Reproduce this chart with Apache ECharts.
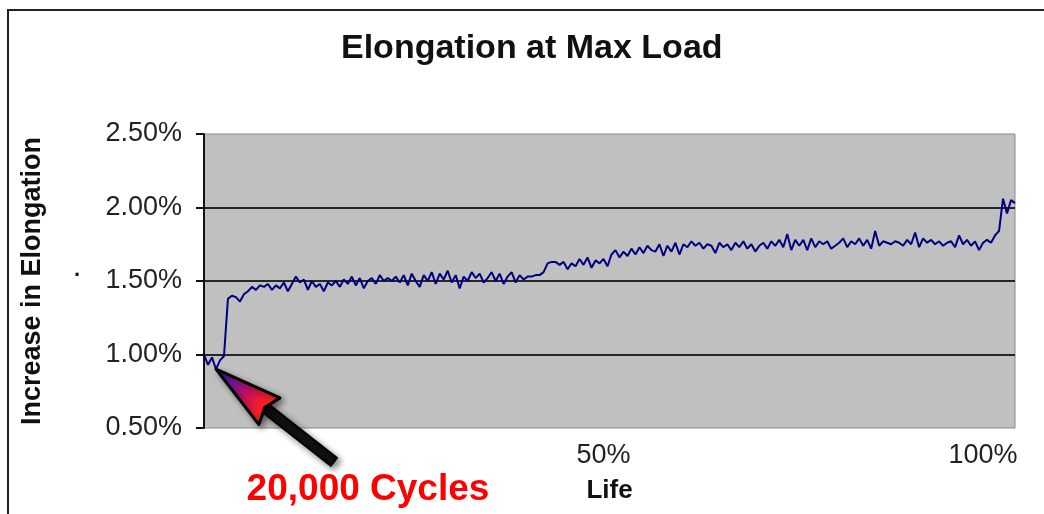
<!DOCTYPE html>
<html>
<head>
<meta charset="utf-8">
<title>Elongation at Max Load</title>
<script src="https://cdn.jsdelivr.net/npm/echarts@6/dist/echarts.min.js"></script>
<style>
  html, body { margin: 0; padding: 0; background: #fff; }
  #chart { width: 1044px; height: 514px; }
</style>
</head>
<body>
<div id="chart"></div>
<script>
// increase in elongation (%) sampled along the life of the part
const elongation = [
  1.00, 0.93, 0.98, 0.90, 0.96, 0.99, 1.38, 1.40, 1.39, 1.36,
  1.41, 1.43, 1.46, 1.44, 1.47, 1.46, 1.48, 1.44, 1.47, 1.45,
  1.49, 1.43, 1.48, 1.53, 1.49, 1.51, 1.44, 1.50, 1.46, 1.48,
  1.43, 1.49, 1.47, 1.50, 1.46, 1.51, 1.48, 1.53, 1.47, 1.52,
  1.45, 1.50, 1.52, 1.48, 1.54, 1.50, 1.52, 1.50, 1.53, 1.49,
  1.54, 1.47, 1.55, 1.50, 1.46, 1.54, 1.50, 1.56, 1.48, 1.55,
  1.51, 1.57, 1.49, 1.54, 1.45, 1.53, 1.50, 1.56, 1.52, 1.55,
  1.49, 1.52, 1.56, 1.50, 1.55, 1.48, 1.53, 1.56, 1.49, 1.54,
  1.51, 1.53, 1.53, 1.54, 1.54, 1.56, 1.62, 1.63, 1.63, 1.61,
  1.63, 1.58, 1.62, 1.60, 1.65, 1.61, 1.66, 1.59, 1.64, 1.62,
  1.65, 1.60, 1.68, 1.71, 1.66, 1.70, 1.67, 1.72, 1.68, 1.73,
  1.69, 1.74, 1.71, 1.70, 1.75, 1.67, 1.74, 1.70, 1.76, 1.68,
  1.75, 1.73, 1.77, 1.74, 1.76, 1.72, 1.75, 1.74, 1.69, 1.76,
  1.73, 1.75, 1.71, 1.76, 1.73, 1.77, 1.72, 1.75, 1.70, 1.74,
  1.76, 1.72, 1.77, 1.74, 1.78, 1.73, 1.82, 1.71, 1.78, 1.74,
  1.78, 1.71, 1.79, 1.73, 1.77, 1.75, 1.77, 1.72, 1.74, 1.76,
  1.79, 1.73, 1.77, 1.75, 1.79, 1.74, 1.78, 1.72, 1.84, 1.74,
  1.77, 1.76, 1.75, 1.77, 1.76, 1.74, 1.78, 1.75, 1.83, 1.73,
  1.79, 1.76, 1.78, 1.75, 1.77, 1.74, 1.76, 1.77, 1.73, 1.81,
  1.75, 1.78, 1.74, 1.77, 1.71, 1.76, 1.78, 1.76, 1.81, 1.84,
  2.06, 1.96, 2.05, 2.03
]
// where the two life labels sit along the samples
const lifeTickIndex = [100, 195]
const lifeTickLabels = ['50%', '100%']
// the 20,000 cycles sample the arrow points at
const cyclesIndex = 3
const cyclesValue = 0.90

const lifeCategories = elongation.map((v, i) => {
  const k = lifeTickIndex.indexOf(i)
  return k >= 0 ? lifeTickLabels[k] : ''
})

const font = 'Arial, "Liberation Sans", sans-serif'
const chart = echarts.init(document.getElementById('chart'))

chart.setOption({
  backgroundColor: '#fff',
  animation: false,
  title: {
    text: 'Elongation at Max Load',
    left: 341,
    top: 32,
    padding: 0,
    textStyle: { fontFamily: font, fontSize: 34, fontWeight: 'bold', color: '#111' }
  },
  grid: {
    left: 204,
    right: 29,
    top: 134,
    bottom: 86,
    show: true,
    backgroundColor: '#c0c0c0',
    borderColor: '#8a8a8a',
    borderWidth: 1
  },
  xAxis: {
    type: 'category',
    data: lifeCategories,
    boundaryGap: false,
    name: 'Life',
    nameLocation: 'middle',
    nameGap: 50,
    nameTextStyle: { fontFamily: font, fontSize: 26, fontWeight: 'bold', color: '#111' },
    axisLine: { show: false },
    axisTick: { show: false },
    splitLine: { show: false },
    axisLabel: {
      interval: (i) => lifeTickIndex.indexOf(i) >= 0,
      margin: 14,
      fontFamily: font,
      fontSize: 27,
      color: '#222'
    }
  },
  yAxis: {
    type: 'value',
    min: 0.5,
    max: 2.5,
    interval: 0.5,
    name: 'Increase in Elongation',
    nameLocation: 'middle',
    nameGap: 158,
    nameTextStyle: { fontFamily: font, fontSize: 27, fontWeight: 'bold', color: '#111' },
    axisLine: { show: true, lineStyle: { color: '#111', width: 2 } },
    axisTick: { show: true, length: 8, lineStyle: { color: '#111', width: 2 } },
    splitLine: {
      show: true,
      lineStyle: { color: ['transparent', '#262626', '#262626', '#262626', 'transparent'], width: 2 }
    },
    axisLabel: {
      margin: 22,
      fontFamily: font,
      fontSize: 27,
      color: '#222',
      formatter: (v) => v.toFixed(2) + '%'
    }
  },
  series: [{
    type: 'line',
    data: elongation,
    showSymbol: false,
    lineStyle: { color: '#000080', width: 2 },
    z: 3
  }]
})

// arrow + label pointing at the 20,000 cycle dip
function drawArrow() {
  const tip = chart.convertToPixel({ gridIndex: 0 }, [cyclesIndex, cyclesValue])
  const ang = Math.atan2(92, 117)
  const ux = Math.cos(ang), uy = Math.sin(ang)
  const nx = -uy, ny = ux
  const pt = (a, b) => [tip[0] + ux * a + nx * b, tip[1] + uy * a + ny * b]
  const headLen = 68, headW = 17, shaftW = 5, len = 150
  chart.setOption({
    graphic: [
      {
        type: 'rect',
        shape: { x: 8, y: 10, width: 1100, height: 600 },
        style: { fill: 'none', stroke: '#222', lineWidth: 2 },
        silent: true
      },
      {
        type: 'text',
        x: 77,
        y: 281,
        style: { text: '.', font: 'bold 22px ' + font, fill: '#111', align: 'center', verticalAlign: 'bottom' }
      },
      {
        type: 'polygon',
        shape: { points: [pt(headLen - 8, shaftW), pt(len, shaftW), pt(len, -shaftW), pt(headLen - 8, -shaftW)] },
        style: { fill: '#111', stroke: '#000', lineWidth: 2, shadowBlur: 6, shadowColor: 'rgba(0,0,0,0.45)', shadowOffsetX: 3, shadowOffsetY: 3 },
        z: 100
      },
      {
        type: 'polygon',
        shape: { points: [pt(0, 0), pt(headLen, headW), pt(headLen - 6, 0), pt(headLen, -headW)] },
        style: {
          fill: new echarts.graphic.LinearGradient(0, 0, 1, 1, [
            { offset: 0, color: '#2020ff' },
            { offset: 0.45, color: '#c01060' },
            { offset: 0.7, color: '#ff2020' },
            { offset: 1, color: '#ff3010' }
          ]),
          stroke: '#000',
          lineWidth: 3,
          lineJoin: 'round',
          shadowBlur: 6,
          shadowColor: 'rgba(0,0,0,0.45)',
          shadowOffsetX: 3,
          shadowOffsetY: 3
        },
        z: 101
      },
      {
        type: 'text',
        x: 368,
        y: 490,
        style: { text: '20,000 Cycles', font: 'bold 37px ' + font, fill: '#ff0000', align: 'center', verticalAlign: 'middle' },
        z: 102
      }
    ]
  })
}
drawArrow()
</script>
</body>
</html>
